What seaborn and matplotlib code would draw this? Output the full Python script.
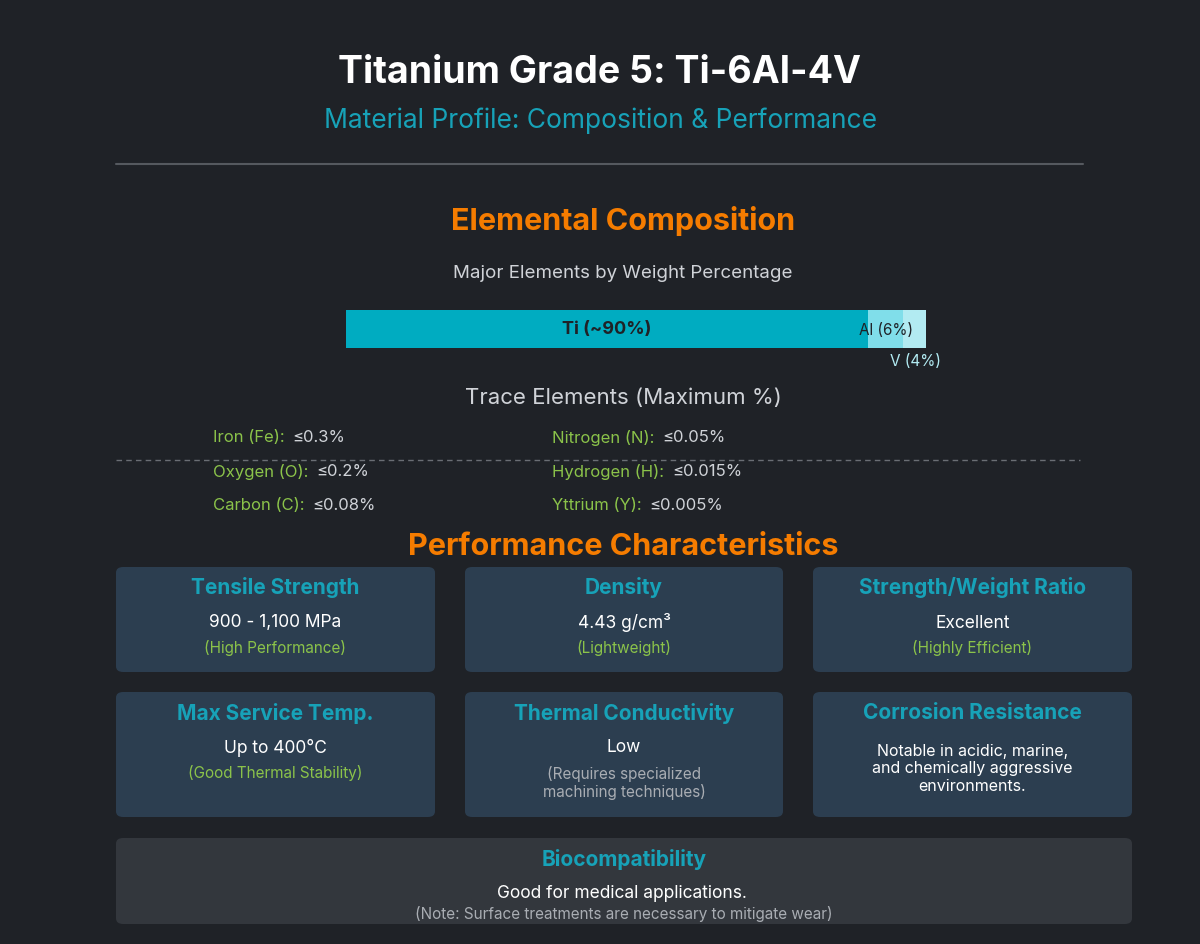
import matplotlib
matplotlib.use("Agg")
import matplotlib.pyplot as plt
import seaborn as sns
from matplotlib.patches import FancyBboxPatch
from matplotlib.lines import Line2D

elements = ["Ti (~90%)", "Al (6%)", "V (4%)"]
weights = [90, 6, 4]
bar_colors = ["#00acc1", "#80deea", "#b2ebf2"]
trace_names = ["Iron (Fe):", "Oxygen (O):", "Carbon (C):", "Nitrogen (N):", "Hydrogen (H):", "Yttrium (Y):"]
trace_values = ["≤0.3%", "≤0.2%", "≤0.08%", "≤0.05%", "≤0.015%", "≤0.005%"]
card_titles = ["Tensile Strength", "Density", "Strength/Weight Ratio",
               "Max Service Temp.", "Thermal Conductivity", "Corrosion Resistance"]
card_values = ["900 - 1,100 MPa", "4.43 g/cm³", "Excellent", "Up to 400°C", "Low",
               "Notable in acidic, marine,\nand chemically aggressive\nenvironments."]
card_notes = ["(High Performance)", "(Lightweight)", "(Highly Efficient)",
              "(Good Thermal Stability)", "(Requires specialized\nmachining techniques)", ""]
note_green = [True, True, True, True, False, False]

sns.set_theme(style="dark", rc={"font.family": "Inter"})
W, H = 1200, 944
BG = "#1f2227"
fig = plt.figure(figsize=(12, 9.44), dpi=100, facecolor=BG)

def Y(y): return 1 - y / H
def X(x): return x / W
def txt(x, y, s, size, color, weight="normal", ha="center", **kw):
    fig.text(X(x), Y(y), s, fontsize=size, color=color, fontweight=weight, ha=ha, va="center", **kw)

CYAN = "#17a2b8"; ORANGE = "#f57c00"; GREEN = "#8bc34a"; LIGHT = "#d0d3d8"
txt(600, 73, "Titanium Grade 5: Ti-6Al-4V", 27, "white", "bold")
txt(600, 121, "Material Profile: Composition & Performance", 19, CYAN)
fig.add_artist(Line2D([X(116), X(1083)], [Y(164), Y(164)], color="#55595f", lw=1.5))
txt(623, 221, "Elemental Composition", 22, ORANGE, "bold")
txt(623, 273, "Major Elements by Weight Percentage", 13.5, LIGHT)

# composition bar
ax = fig.add_axes([X(346), Y(348), X(580), (348 - 310) / H])
left = 0
for e, w, c in zip(elements, weights, bar_colors):
    ax.barh([0], [w], left=left, color=c, height=1, edgecolor="none")
    left += w
ax.set_xlim(0, 100); ax.set_ylim(-0.5, 0.5); ax.axis("off")
txt(607, 329, elements[0], 13, "#1f2227", "bold")
txt(886, 330, elements[1], 11, "#1f2227")
txt(915, 362, elements[2], 11, "#b2ebf2")

txt(623, 398, "Trace Elements (Maximum %)", 16, LIGHT)
for i, (n, v) in enumerate(zip(trace_names, trace_values)):
    col = i // 3; row = i % 3
    x0 = 213 if col == 0 else 552
    y0 = 438 + row * 34
    t = fig.text(X(x0), Y(y0), n, fontsize=12, color=GREEN, va="center")
    r = fig.canvas.get_renderer()
    bb = t.get_window_extent(r)
    fig.text(bb.x1 / W + X(8), Y(y0), v, fontsize=12, color=LIGHT, va="center")
fig.add_artist(Line2D([X(116), X(1080)], [Y(460), Y(460)], color="#6a6e74", lw=1, ls=(0, (4, 3))))

txt(623, 547, "Performance Characteristics", 22, ORANGE, "bold")

def card(x0, x1, y0, y1, color):
    fig.add_artist(FancyBboxPatch((X(x0), Y(y1)), X(x1 - x0), (y1 - y0) / H,
                                  boxstyle="round,pad=0,rounding_size=0.006",
                                  transform=fig.transFigure, facecolor=color, edgecolor="none"))

xs = [(116, 435), (465, 783), (813, 1132)]
rows = [(567, 672), (692, 817)]
for i in range(6):
    (x0, x1) = xs[i % 3]; (y0, y1) = rows[i // 3]
    card(x0, x1, y0, y1, "#2c3e50")
    cx = (x0 + x1) / 2
    txt(cx, y0 + 21, card_titles[i], 15, CYAN, "bold")
    if i == 5:
        txt(cx, y0 + 77, card_values[i], 11.5, "white", linespacing=1.2)
    else:
        txt(cx, y0 + 56, card_values[i], 12.5, "white")
        if card_notes[i]:
            ny = y0 + 81 if note_green[i] else y0 + 91
            txt(cx, ny, card_notes[i], 11, GREEN if note_green[i] else "#a9adb3", linespacing=1.2)

card(116, 1132, 838, 924, "#33373d")
txt(624, 859, "Biocompatibility", 15, CYAN, "bold")
txt(622, 894, "Good for medical applications.", 12.5, "white")
txt(624, 914, "(Note: Surface treatments are necessary to mitigate wear)", 11, "#a9adb3")

fig.savefig("out.png", dpi=100, facecolor=BG)
